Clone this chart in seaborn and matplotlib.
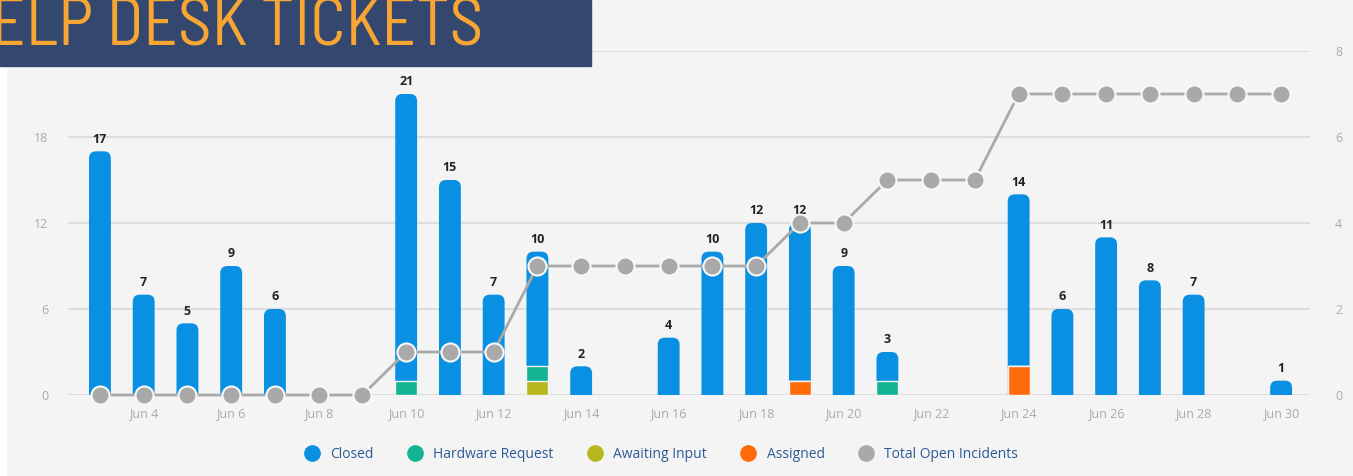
import numpy as np
import pandas as pd
import matplotlib
matplotlib.use("Agg")
import matplotlib.pyplot as plt
import seaborn as sns
from matplotlib.patches import FancyBboxPatch, Rectangle
from matplotlib.lines import Line2D

# ---------------- data ----------------
days = [f"Jun {d}" for d in range(3, 31)]
closed = [17, 7, 5, 9, 6, 0, 0, 20, 15, 7, 8, 2, 0, 4, 10, 12, 11, 9, 2, 0, 0, 12, 6, 11, 8, 7, 0, 1]
hardware = [0, 0, 0, 0, 0, 0, 0, 1, 0, 0, 1, 0, 0, 0, 0, 0, 0, 0, 1, 0, 0, 0, 0, 0, 0, 0, 0, 0]
awaiting = [0, 0, 0, 0, 0, 0, 0, 0, 0, 0, 1, 0, 0, 0, 0, 0, 0, 0, 0, 0, 0, 0, 0, 0, 0, 0, 0, 0]
assigned = [0, 0, 0, 0, 0, 0, 0, 0, 0, 0, 0, 0, 0, 0, 0, 0, 1, 0, 0, 0, 0, 2, 0, 0, 0, 0, 0, 0]
open_incidents = [0, 0, 0, 0, 0, 0, 0, 1, 1, 1, 3, 3, 3, 3, 3, 3, 4, 4, 5, 5, 5, 7, 7, 7, 7, 7, 7, 7]
left_ticks = [0, 6, 12, 18, 24]
left_tick_labels = ["0", "6", "12", "18", ""]
right_ticks = [0, 2, 4, 6, 8]
title = "HELP DESK TICKETS"

C_CLOSED = "#0A90E2"
C_HW = "#14B394"
C_AWAIT = "#B6B81E"
C_ASSIGN = "#FF6B0A"
C_LINE = "#A9A9A9"
BG = "#F4F4F4"

df = pd.DataFrame({"day": days, "closed": closed, "hardware": hardware,
                   "awaiting": awaiting, "assigned": assigned, "open": open_incidents})
df["lvl_assign"] = df["assigned"]
df["lvl_await"] = df["lvl_assign"] + df["awaiting"]
df["lvl_hw"] = df["lvl_await"] + df["hardware"]
df["total"] = df["lvl_hw"] + df["closed"]

W, H = 1353, 476
fig = plt.figure(figsize=(W / 100, H / 100), dpi=100)
fig.patch.set_facecolor(BG)
fig.add_artist(Rectangle((0, 0), 6 / W, 1, transform=fig.transFigure, color="white", zorder=0))

ax = fig.add_axes([68 / W, 1 - 395 / H, (1310 - 68) / W, (395 - 51) / H])
ax.set_facecolor(BG)

layers = [("total", C_CLOSED), ("lvl_hw", C_HW), ("lvl_await", C_AWAIT), ("lvl_assign", C_ASSIGN)]
containers = []
for col, color in layers:
    sns.barplot(data=df, x="day", y=col, color=color, width=0.5, ax=ax,
                saturation=1, edgecolor="none", linewidth=0, zorder=2)
    containers.append(ax.containers[-1])

ax.set_ylim(0, 24)
ax.set_xlim(-0.73, 27.66)

# rounded tops on the total (closed) bars
rx = 0.16
ry = 0.5
for p in list(containers[0].patches):
    h = p.get_height()
    if h <= 0:
        continue
    x0, w = p.get_x(), p.get_width()
    fb = FancyBboxPatch((x0, -ry * 2), w, h + ry * 2,
                        boxstyle=f"round,pad=0,rounding_size={rx}",
                        mutation_aspect=ry / rx, facecolor=C_CLOSED,
                        edgecolor="none", zorder=1.9)
    ax.add_patch(fb)
    p.set_visible(False)
for cont in containers[1:]:
    for p in cont.patches:
        if p.get_height() > 0:
            p.set_edgecolor(BG)
            p.set_linewidth(1.0)

labels = [str(t) if t > 0 else "" for t in df["total"]]
ax.bar_label(containers[0], labels=labels, padding=4, fontsize=9,
             fontweight="bold", color="#222222", family="Open Sans")

ax.set_yticks(left_ticks)
ax.set_yticklabels(left_tick_labels)
ax.grid(axis="y", color="#DDDDDD", linewidth=1.5, zorder=0)
ax.grid(axis="x", visible=False)
ax.set_axisbelow(True)
for s in ax.spines.values():
    s.set_visible(False)
xt = list(range(1, len(days), 2))
ax.set_xticks(xt)
ax.set_xticklabels([days[i] for i in xt])
ax.tick_params(axis="x", length=0, pad=9, labelsize=9, labelcolor="#AAAAAA")
ax.tick_params(axis="y", length=0, pad=14, labelsize=9, labelcolor="#AAAAAA")
ax.set_xlabel("")
ax.set_ylabel("")
for t in ax.get_xticklabels() + ax.get_yticklabels():
    t.set_family("Open Sans")

ax2 = ax.twinx()
ax2.set_ylim(0, 8)
sns.lineplot(x=np.arange(len(days)), y=df["open"].values, ax=ax2, color=C_LINE,
             linewidth=2, marker="o", markersize=13, markerfacecolor=C_LINE,
             markeredgecolor="#F8F8F8", markeredgewidth=1.5, clip_on=False, zorder=5)
ax2.set_yticks(right_ticks)
ax2.tick_params(axis="y", length=0, pad=18, labelsize=9, labelcolor="#AAAAAA")
for t in ax2.get_yticklabels():
    t.set_family("Open Sans")
for s in ax2.spines.values():
    s.set_visible(False)
ax2.grid(False)
ax2.set_ylabel("")

handles = [Line2D([], [], ls="", marker="o", markersize=11, color=c) for c in
           [C_CLOSED, C_HW, C_AWAIT, C_ASSIGN, C_LINE]]
names = ["Closed", "Hardware Request", "Awaiting Input", "Assigned", "Total Open Incidents"]
fig.legend(handles, names, loc="center", bbox_to_anchor=(658 / W, 1 - 454 / H),
           ncol=5, frameon=False, handletextpad=0.3, columnspacing=2.0,
           labelcolor="#2C5A95", prop={"family": "Open Sans", "size": 10})

fig.add_artist(Rectangle((0, 1 - 66 / H), 591 / W, 66 / H, transform=fig.transFigure,
                         color="#34476F", zorder=10))
fig.text(483 / W, 1 - 45 / H, title, ha="right", va="baseline", color="#F7A533",
         family="Barlow Semi Condensed", fontweight="normal", size=48.5, zorder=11)

fig.savefig("out.png", dpi=100, facecolor=BG)
